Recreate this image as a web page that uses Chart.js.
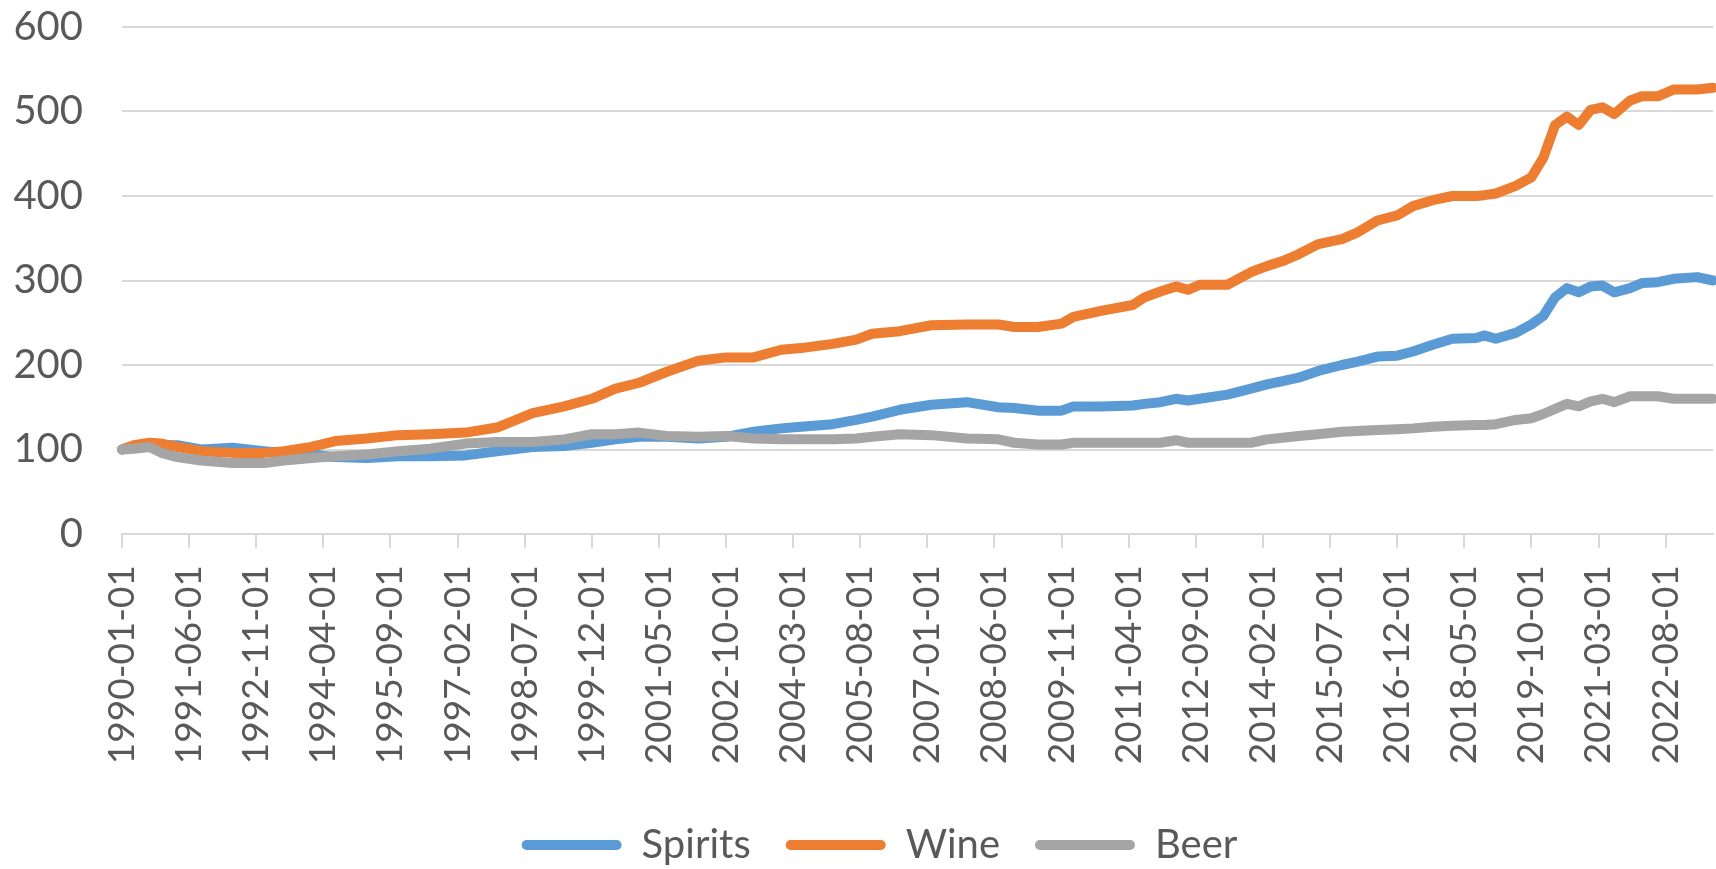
<!DOCTYPE html>
<html>
<head>
<meta charset="utf-8">
<script src="https://cdn.jsdelivr.net/npm/chart.js@4/dist/chart.umd.min.js"></script>
<style>
  body { margin: 0; background: #ffffff; }
  #wrap { width: 1716px; height: 869px; position: relative; }
</style>
</head>
<body>
<div id="wrap"><canvas id="alcoholChart"></canvas></div>
<script>
// monthly categories 1990-01 .. 2023-08
const firstYear = 1990;
const lastYear = 2023;
const lastMonth = 8;

const tickLabels = [
  "1990-01-01", "1991-06-01", "1992-11-01", "1994-04-01", "1995-09-01", "1997-02-01",
  "1998-07-01", "1999-12-01", "2001-05-01", "2002-10-01", "2004-03-01", "2005-08-01",
  "2007-01-01", "2008-06-01", "2009-11-01", "2011-04-01", "2012-09-01", "2014-02-01",
  "2015-07-01", "2016-12-01", "2018-05-01", "2019-10-01", "2021-03-01", "2022-08-01"
];

const readDates = [
  "1990-01-01", "1990-04-01", "1990-08-01", "1990-11-01", "1991-03-01", "1991-09-01",
  "1992-05-01", "1993-01-01", "1993-06-01", "1994-01-01", "1994-07-01", "1995-03-01",
  "1995-11-01", "1996-07-01", "1997-04-01", "1997-12-01", "1998-09-01", "1999-05-01",
  "1999-12-01", "2000-06-01", "2000-12-01", "2001-07-01", "2002-03-01", "2002-10-01",
  "2003-05-01", "2003-12-01", "2004-05-01", "2005-01-01", "2005-07-01", "2005-11-01",
  "2006-06-01", "2007-02-01", "2007-11-01", "2008-07-01", "2008-11-01", "2009-05-01",
  "2009-11-01", "2010-02-01", "2010-09-01", "2011-05-01", "2011-08-01", "2011-12-01",
  "2012-04-01", "2012-07-01", "2012-10-01", "2013-05-01", "2013-11-01", "2014-03-01",
  "2014-07-01", "2014-11-01", "2015-04-01", "2015-10-01", "2016-02-01", "2016-07-01",
  "2016-12-01", "2017-04-01", "2017-09-01", "2018-02-01", "2018-08-01", "2018-10-01",
  "2019-01-01", "2019-06-01", "2019-10-01", "2020-01-01", "2020-04-01", "2020-07-01",
  "2020-10-01", "2021-01-01", "2021-04-01", "2021-07-01", "2021-11-01", "2022-02-01",
  "2022-06-01", "2022-10-01", "2023-04-01", "2023-08-01"
];

const spirits = [
  100, 104, 107, 105, 105, 100,
  102, 98, 96, 94, 91, 90,
  92, 92, 93, 98, 103, 104,
  108, 112, 115, 115, 113, 115,
  121, 125, 127, 130, 135, 139,
  147, 153, 156, 150, 149, 146,
  146, 151, 151, 152, 154, 156,
  160, 158, 160, 165, 172, 177,
  181, 185, 193, 200, 204, 210,
  211, 216, 224, 231, 232, 235,
  231, 238, 248, 258, 280, 291,
  286, 293, 294, 286, 291, 297,
  298, 302, 304, 300
];

const wine = [
  100, 105, 108, 107, 103, 98,
  96, 96, 98, 103, 110, 113,
  117, 118, 120, 126, 143, 151,
  160, 172, 179, 192, 205, 209,
  209, 218, 220, 225, 230, 237,
  240, 247, 248, 248, 245, 245,
  249, 257, 264, 271, 280, 287,
  293, 289, 295, 295, 310, 317,
  323, 331, 343, 349, 357, 371,
  377, 388, 395, 400, 400, 401,
  403, 412, 422, 445, 484, 494,
  484, 502, 505, 497, 513, 518,
  518, 526, 526, 528
];

const beer = [
  100, 101, 103, 96, 91, 87,
  84, 84, 87, 90, 92, 94,
  98, 101, 107, 109, 109, 112,
  118, 118, 120, 116, 115, 116,
  113, 112, 112, 112, 113, 115,
  118, 117, 113, 112, 108, 106,
  106, 108, 108, 108, 108, 108,
  111, 108, 108, 108, 108, 112,
  114, 116, 118, 121, 122, 123,
  124, 125, 127, 128, 129, 129,
  130, 135, 137, 142, 148, 154,
  151, 157, 160, 156, 163, 163,
  163, 160, 160, 160
];

const months = [];
for (let y = firstYear; y <= lastYear; y++) {
  for (let m = 1; m <= 12; m++) {
    if (y === lastYear && m > lastMonth) break;
    months.push(y + "-" + String(m).padStart(2, "0") + "-01");
  }
}

function toPoints(values) {
  return readDates.map(function (d, i) {
    return { x: d, y: values[i] };
  });
}

function serie(label, values, color, order) {
  return {
    label: label,
    data: toPoints(values),
    borderColor: color,
    backgroundColor: color,
    borderWidth: 10,
    borderCapStyle: "round",
    borderJoinStyle: "round",
    pointRadius: 0,
    tension: 0,
    order: order,
  };
}

const fontFamily = "Lato, 'Open Sans', sans-serif";
const textColor = "#595959";
const gridColor = "#d9d9d9";
const legendHeight = 79;
const legendShift = 23;

// fixed legend height, and the legend row sits a bit right of centre like in Excel
const legendFit = {
  id: "legendFit",
  beforeLayout: function (chart) {
    const lg = chart.legend;
    if (!lg || lg._fixed) return;
    const fit = lg.fit;
    lg.fit = function () {
      fit.call(this);
      this.height = legendHeight;
    };
    lg._fixed = true;
  },
  afterLayout: function (chart) {
    const lg = chart.legend;
    if (!lg) return;
    lg.left += legendShift;
    lg.right += legendShift;
  },
};

new Chart(document.getElementById("alcoholChart"), {
  type: "line",
  data: {
    labels: months,
    datasets: [
      serie("Spirits", spirits, "#5b9bd5", 3),
      serie("Wine", wine, "#ed7d31", 2),
      serie("Beer", beer, "#a5a5a5", 1),
    ],
  },
  plugins: [legendFit],
  options: {
    responsive: true,
    maintainAspectRatio: false,
    animation: false,
    layout: {
      padding: { left: 0, right: 3, top: 27, bottom: 0 },
    },
    plugins: {
      tooltip: { enabled: false },
      legend: {
        position: "bottom",
        labels: {
          color: textColor,
          font: { family: fontFamily, size: 40 },
          boxWidth: 100,
          boxHeight: 10,
          useBorderRadius: true,
          borderRadius: 5,
          padding: 35,
          sort: function (a, b) {
            return a.datasetIndex - b.datasetIndex;
          },
          generateLabels: function (chart) {
            return Chart.defaults.plugins.legend.labels
              .generateLabels(chart)
              .map(function (l) {
                l.lineWidth = 0;
                return l;
              });
          },
        },
      },
    },
    scales: {
      x: {
        offset: false,
        afterFit: function (scale) {
          scale.paddingLeft = 0;
          scale.paddingRight = 0;
          scale.height = 256;
        },
        grid: {
          drawOnChartArea: false,
          tickLength: 14,
          lineWidth: 2,
          tickColor: function (ctx) {
            return ctx.index % 17 === 0 ? gridColor : "rgba(0,0,0,0)";
          },
        },
        border: { display: true, color: gridColor, width: 2 },
        ticks: {
          autoSkip: false,
          minRotation: 90,
          maxRotation: 90,
          padding: 17,
          color: textColor,
          font: { family: fontFamily, size: 37 },
          callback: function (value) {
            const lab = this.getLabelForValue(value);
            return tickLabels.includes(lab) ? lab : "";
          },
        },
      },
      y: {
        min: 0,
        max: 600,
        afterFit: function (scale) {
          scale.paddingTop = 0;
          scale.paddingBottom = 0;
          scale.width = 122;
        },
        grid: { color: gridColor, lineWidth: 2, drawTicks: false },
        border: { display: false },
        ticks: {
          stepSize: 100,
          padding: 39,
          color: textColor,
          font: { family: fontFamily, size: 40 },
        },
      },
    },
  },
});
</script>
</body>
</html>
